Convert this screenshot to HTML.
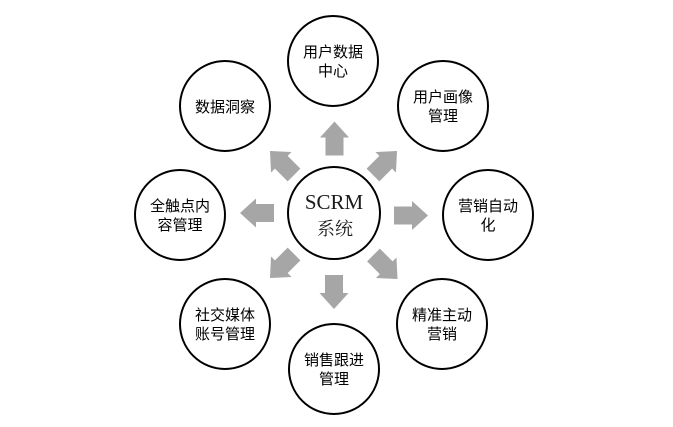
<!DOCTYPE html>
<html>
<head>
<meta charset="utf-8">
<style>
  html, body { margin: 0; padding: 0; background: #ffffff; }
  body { width: 673px; height: 427px; overflow: hidden; }
  svg { display: block; }
  .lbl { font-family: "Liberation Sans", "WenQuanYi Zen Hei", "Noto Sans CJK SC", sans-serif; font-size: 15px; fill: #000; }
</style>
</head>
<body>
<svg width="673" height="427" viewBox="0 0 673 427" xmlns="http://www.w3.org/2000/svg">
  <defs>
    <polygon id="arr" points="-17,-9 1,-9 1,-14.5 17,0 1,14.5 1,9 -17,9" fill="#a6a6a6"/>
  </defs>

  <!-- arrows -->
  <use href="#arr" transform="translate(334.5,138.5) rotate(-90)"/>
  <use href="#arr" transform="translate(334,292) rotate(90)"/>
  <use href="#arr" transform="translate(257,213) rotate(180)"/>
  <use href="#arr" transform="translate(411,215.5)"/>
  <use href="#arr" transform="translate(282,163) rotate(-135)"/>
  <use href="#arr" transform="translate(385,163) rotate(-45)"/>
  <use href="#arr" transform="translate(282,266) rotate(135)"/>
  <use href="#arr" transform="translate(385.5,267) rotate(45)"/>

  <!-- circles -->
  <g fill="#fff" stroke="#000" stroke-width="2">
    <circle cx="334" cy="213" r="46"/>
    <circle cx="333" cy="61" r="45"/>
    <circle cx="443" cy="106" r="45"/>
    <circle cx="488" cy="215" r="45"/>
    <circle cx="442" cy="324" r="45"/>
    <circle cx="334" cy="369" r="45"/>
    <circle cx="225" cy="324" r="45"/>
    <circle cx="180" cy="215" r="45"/>
    <circle cx="225" cy="106" r="45"/>
  </g>

  <!-- center text -->
  <text x="334" y="209" text-anchor="middle" font-family="'Liberation Serif', 'Noto Serif CJK SC', serif" font-size="21" fill="#1a1a1a">SCRM</text>
  <text x="335" y="235" text-anchor="middle" font-family="'Liberation Serif', 'Noto Serif CJK SC', serif" font-size="18" fill="#1a1a1a">系统</text>

  <!-- node labels -->
  <text class="lbl" text-anchor="middle" x="333" y="57">用户数据</text>
  <text class="lbl" text-anchor="middle" x="333" y="76">中心</text>

  <text class="lbl" text-anchor="middle" x="443" y="102">用户画像</text>
  <text class="lbl" text-anchor="middle" x="443" y="121">管理</text>

  <text class="lbl" text-anchor="middle" x="488" y="211">营销自动</text>
  <text class="lbl" text-anchor="middle" x="488" y="230">化</text>

  <text class="lbl" text-anchor="middle" x="442" y="320">精准主动</text>
  <text class="lbl" text-anchor="middle" x="442" y="339">营销</text>

  <text class="lbl" text-anchor="middle" x="334" y="365">销售跟进</text>
  <text class="lbl" text-anchor="middle" x="334" y="384">管理</text>

  <text class="lbl" text-anchor="middle" x="225" y="320">社交媒体</text>
  <text class="lbl" text-anchor="middle" x="225" y="339">账号管理</text>

  <text class="lbl" text-anchor="middle" x="180" y="211">全触点内</text>
  <text class="lbl" text-anchor="middle" x="180" y="230">容管理</text>

  <text class="lbl" text-anchor="middle" x="225" y="112">数据洞察</text>
</svg>
</body>
</html>
